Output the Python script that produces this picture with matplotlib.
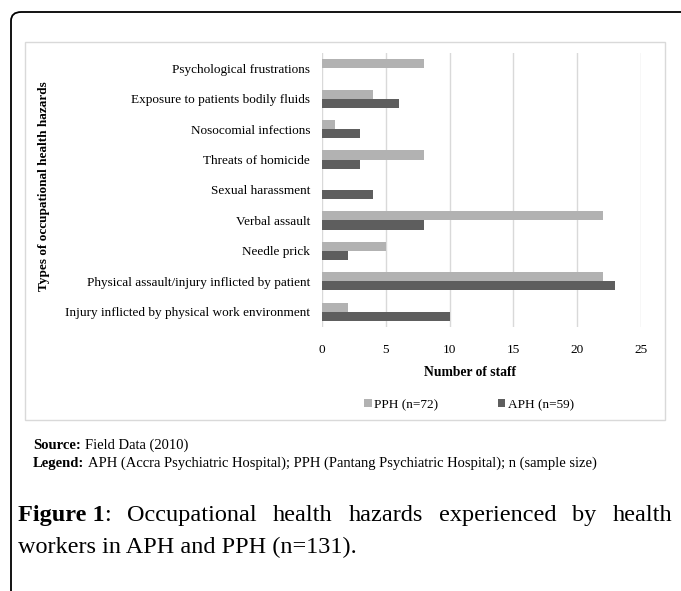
import matplotlib.pyplot as plt
from matplotlib.patches import FancyBboxPatch, Rectangle
import numpy as np

plt.rcParams['font.family'] = ['Liberation Serif', 'DejaVu Serif']

# categories listed bottom to top
hazards = ['Injury inflicted by physical work environment',
           'Physical assault/injury inflicted by patient',
           'Needle prick',
           'Verbal assault',
           'Sexual harassment',
           'Threats of homicide',
           'Nosocomial infections',
           'Exposure to patients bodily fluids',
           'Psychological frustrations']
pph = [2, 22, 5, 22, 0, 8, 1, 4, 8]
aph = [10, 23, 2, 8, 4, 3, 3, 6, 0]
series_names = ['PPH (n=72)', 'APH (n=59)']
pph_col = '#b2b2b2'
aph_col = '#5e5e5e'

W, H = 681, 591
fig = plt.figure(figsize=(W / 100, H / 100), dpi=100)
renderer = fig.canvas.get_renderer()

def fx(px):
	return px / W

def fy(py):
	return 1 - py / H

def width_px(t):
	""" pixel width of a text artist """
	return t.get_window_extent(renderer=renderer).width

# outer rounded frame (runs off the page right and bottom)
outer = FancyBboxPatch((fx(11), fy(640)), fx(720), fy(12) - fy(640),
                       boxstyle='round,pad=0,rounding_size=0.015',
                       transform=fig.transFigure, fill=False,
                       edgecolor='black', linewidth=1.3, clip_on=False)
fig.patches.append(outer)
# chart area box
fig.patches.append(Rectangle((fx(25), fy(420)), fx(640), fy(42) - fy(420),
                             transform=fig.transFigure, fill=False,
                             edgecolor='#d9d9d9', linewidth=1))

ax = fig.add_axes([fx(322), fy(327), fx(641) - fx(322), fy(53) - fy(327)])
y = np.arange(len(hazards))
h = 0.3
ax.barh(y + h / 2, pph, height=h, color=pph_col, label=series_names[0], zorder=3)
ax.barh(y - h / 2, aph, height=h, color=aph_col, label=series_names[1], zorder=3)
ax.set_xlim(0, 25)
ax.set_ylim(-0.5, len(hazards) - 0.5)
ax.set_xticks([0, 5, 10, 15, 20, 25])
ax.set_yticks(y)
ax.set_yticklabels(hazards, fontsize=9.5)
ax.tick_params(axis='both', length=0, labelsize=9.5)
ax.tick_params(axis='x', pad=12)
ax.tick_params(axis='y', pad=8.5)
ax.grid(axis='x', color='#d9d9d9', linewidth=1, zorder=0)
for s in ax.spines.values():
	s.set_visible(False)

fig.text(fx(470), fy(372), 'Number of staff', fontsize=9.8, fontweight='bold',
         ha='center', va='center')
fig.text(fx(44), fy(186), 'Types of occupational health hazards', rotation=90,
         fontsize=9.5, fontweight='bold', ha='center', va='center')

leg = fig.legend(handles=ax.get_legend_handles_labels()[0], loc='center',
                 bbox_to_anchor=(fx(469), fy(405)), ncol=2, frameon=False,
                 fontsize=9.5, handlelength=0.55, handleheight=0.55,
                 handletextpad=0.2, columnspacing=4.5)

# notes: bold label followed by plain text
def note(py, label, body):
	t = fig.text(fx(33), fy(py), label, fontsize=10.5, fontweight='bold', va='baseline')
	fig.text(fx(33 + width_px(t) + 4), fy(py), body, fontsize=10.5, va='baseline')

note(449, 'Source:', 'Field Data (2010)')
note(467, 'Legend:', 'APH (Accra Psychiatric Hospital); PPH (Pantang Psychiatric Hospital); n (sample size)')

# caption, first line justified between x=18 and x=672
cap_size = 17.5
left, right = 18, 672
t1 = fig.text(fx(left), fy(521), 'Figure 1', fontsize=cap_size, fontweight='bold', va='baseline')
t2 = fig.text(fx(left + width_px(t1)), fy(521), ':', fontsize=cap_size, va='baseline')
start = left + width_px(t1) + width_px(t2)
words = ['Occupational', 'health', 'hazards', 'experienced', 'by', 'health']
arts = [fig.text(0, fy(521), w, fontsize=cap_size, va='baseline') for w in words]
widths = [width_px(a) for a in arts]
gap = (right - start - sum(widths)) / len(words)
xpos = start + gap
for a, w in zip(arts, widths):
	a.set_x(fx(xpos))
	xpos += w + gap
fig.text(fx(left), fy(553), 'workers in APH and PPH (n=131).', fontsize=cap_size, va='baseline')

fig.savefig('out.png', dpi=100)
